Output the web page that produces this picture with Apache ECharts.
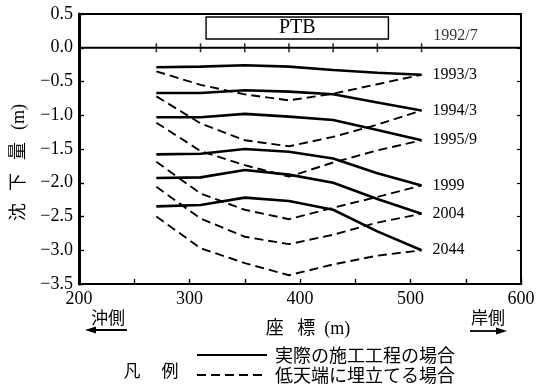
<!DOCTYPE html>
<html>
<head>
<meta charset="utf-8">
<script src="https://cdn.jsdelivr.net/npm/echarts@6/dist/echarts.min.js"></script>
<style>
  html, body { margin: 0; padding: 0; background: #fff; }
  #chart { width: 544px; height: 389px; }
</style>
</head>
<body>
<div id="chart"></div>
<script>
// Measurement stations along the section (m)
const stations = [270, 310, 350, 390, 430, 470, 510];

// Survey dates, top to bottom
const dates = ['1993/3', '1994/3', '1995/9', '1999', '2004', '2044'];
const baseDate = '1992/7';

// Settlement (m), actual construction schedule
const actual1993 = [-0.29, -0.28, -0.26, -0.28, -0.33, -0.37, -0.40];
const actual1994 = [-0.67, -0.67, -0.63, -0.65, -0.69, -0.81, -0.93];
const actual1995 = [-1.03, -1.03, -0.98, -1.02, -1.07, -1.22, -1.37];
const actual1999 = [-1.58, -1.57, -1.50, -1.54, -1.64, -1.86, -2.04];
const actual2004 = [-1.93, -1.92, -1.81, -1.88, -2.00, -2.24, -2.46];
const actual2044 = [-2.35, -2.33, -2.22, -2.27, -2.40, -2.72, -3.00];

// Settlement (m), reclaimed to a low crown level
const low1993 = [-0.35, -0.55, -0.69, -0.78, -0.68, -0.54, -0.40];
const low1994 = [-0.72, -1.12, -1.37, -1.46, -1.32, -1.14, -0.93];
const low1995 = [-1.11, -1.53, -1.74, -1.91, -1.70, -1.52, -1.37];
const low1999 = [-1.69, -2.16, -2.40, -2.54, -2.37, -2.21, -2.04];
const low2004 = [-2.06, -2.53, -2.80, -2.91, -2.77, -2.59, -2.46];
const low2044 = [-2.50, -2.97, -3.19, -3.37, -3.21, -3.08, -3.00];

// PTB extent: x range (m) and vertical band of the box
const ptbRange = [315, 480];
const ptbBand = [0.13, 0.455];

const actualSets = [actual1993, actual1994, actual1995, actual1999, actual2004, actual2044];
const lowSets = [low1993, low1994, low1995, low1999, low2004, low2044];

const NAME_ACTUAL = '実際の施工工程の場合';
const NAME_LOW = '低天端に埋立てる場合';
const SERIF = "'Liberation Serif', 'Noto Sans CJK JP', serif";
const CJK = "'Noto Sans CJK JP', 'Liberation Serif', sans-serif";

const pairs = vals => stations.map((x, i) => [x, vals[i]]);

const series = [];

// 1992/7 baseline with the PTB box and station ticks
series.push({
  type: 'line',
  name: baseDate,
  data: [[200, 0], [600, 0]],
  symbol: 'none',
  silent: true,
  lineStyle: { color: '#000', width: 2 },
  markArea: {
    silent: true,
    itemStyle: { color: '#fff', borderColor: '#000', borderWidth: 1.4 },
    label: {
      show: true, position: 'inside', formatter: 'PTB',
      color: '#000', fontSize: 20, fontFamily: SERIF
    },
    data: [[{ coord: [ptbRange[0], ptbBand[1]] }, { coord: [ptbRange[1], ptbBand[0]] }]]
  },
  z: 2
});
series.push({
  type: 'scatter',
  name: baseDate + ' ticks',
  symbol: 'rect',
  symbolSize: [1.6, 9],
  itemStyle: { color: '#000' },
  silent: true,
  data: stations.map((x, i) => ({
    value: [x, 0],
    label: i === stations.length - 1 ? {
      show: true, position: 'right', distance: 11, offset: [0, -12],
      formatter: baseDate, color: '#000', fontSize: 16, fontFamily: SERIF
    } : { show: false }
  })),
  z: 3
});

dates.forEach((d, k) => {
  series.push({
    type: 'line',
    name: NAME_ACTUAL,
    data: pairs(actualSets[k]),
    symbol: 'none',
    lineStyle: { color: '#000', width: 2.6 },
    itemStyle: { color: '#000' },
    endLabel: {
      show: true, formatter: d, distance: 11,
      color: '#000', fontSize: 16, fontFamily: SERIF
    },
    z: 4
  });
  series.push({
    type: 'line',
    name: NAME_LOW,
    data: pairs(lowSets[k]),
    symbol: 'none',
    lineStyle: { color: '#000', width: 1.9, type: [9, 5] },
    itemStyle: { color: '#000' },
    z: 3
  });
});

const yLabel = v => {
  if (Math.abs(v) < 1e-9) return '0.0';
  return v < 0 ? '\u2212' + (-v).toFixed(1) : v.toFixed(1);
};

// Rotated characters of the vertical axis title
const yTitleParts = [
  { t: '沈', y: 212 }, { t: '下', y: 182 }, { t: '量', y: 151 }, { t: '(m)', y: 117 }
];

const chart = echarts.init(document.getElementById('chart'), null, { renderer: 'canvas' });
chart.setOption({
  animation: false,
  backgroundColor: '#fff',
  grid: { left: 79, right: 23, top: 14, bottom: 105, containLabel: false, outerBoundsMode: 'none' },
  legend: {
    data: [NAME_ACTUAL, NAME_LOW],
    orient: 'vertical',
    left: 196, top: 346,
    padding: 0,
    itemWidth: 70, itemHeight: 14, itemGap: 2,
    selectedMode: false,
    itemStyle: { opacity: 0, borderWidth: 0 },
    textStyle: { color: '#000', fontSize: 18, lineHeight: 18, fontFamily: CJK, padding: [0, 0, 0, 3] }
  },
  xAxis: [{
    type: 'value', min: 200, max: 600, interval: 50,
    name: '座   標  (m)', nameLocation: 'middle', nameGap: 36,
    nameTextStyle: { color: '#000', fontSize: 18, fontFamily: SERIF, padding: [0, 0, 0, 16] },
    axisLine: { show: true, onZero: false, lineStyle: { color: '#000', width: 2 } },
    axisTick: { show: true, inside: true, length: 5, lineStyle: { color: '#000', width: 1.4 } },
    axisLabel: {
      color: '#000', fontSize: 18, fontFamily: SERIF, margin: 6,
      formatter: v => (v % 100 === 0 ? String(v) : '')
    },
    splitLine: { show: false }
  }, {
    type: 'value', min: 200, max: 600, position: 'top',
    axisLine: { show: true, onZero: false, lineStyle: { color: '#000', width: 2 } },
    axisTick: { show: false }, axisLabel: { show: false }, splitLine: { show: false }
  }],
  yAxis: [{
    type: 'value', min: -3.5, max: 0.5, interval: 0.5,
    axisLine: { show: true, onZero: false, lineStyle: { color: '#000', width: 3 } },
    axisTick: { show: true, inside: true, length: 5, lineStyle: { color: '#000', width: 1.4 } },
    axisLabel: { color: '#000', fontSize: 18, fontFamily: SERIF, margin: 6, formatter: yLabel },
    splitLine: { show: false }
  }, {
    type: 'value', min: -3.5, max: 0.5, interval: 0.5, position: 'right',
    axisLine: { show: true, onZero: false, lineStyle: { color: '#000', width: 2 } },
    axisTick: { show: true, inside: true, length: 4, lineStyle: { color: '#000', width: 1.2 } },
    axisLabel: { show: false }, splitLine: { show: false }
  }],
  graphic: [
    ...yTitleParts.map(p => ({
      type: 'text', x: 19, y: p.y, rotation: Math.PI / 2,
      style: { text: p.t, fill: '#000', font: '18px ' + SERIF, align: 'center', verticalAlign: 'middle' }
    })),
    { type: 'text', x: 108, y: 318,
      style: { text: '沖側', fill: '#000', font: '17px ' + CJK, align: 'center', verticalAlign: 'middle' } },
    { type: 'line', shape: { x1: 92, y1: 330, x2: 127, y2: 330 }, style: { stroke: '#000', lineWidth: 1.8 } },
    { type: 'polygon', shape: { points: [[85, 330], [96, 326.5], [96, 333.5]] }, style: { fill: '#000' } },
    { type: 'text', x: 488, y: 318,
      style: { text: '岸側', fill: '#000', font: '17px ' + CJK, align: 'center', verticalAlign: 'middle' } },
    { type: 'line', shape: { x1: 470, y1: 331, x2: 500, y2: 331 }, style: { stroke: '#000', lineWidth: 1.8 } },
    { type: 'polygon', shape: { points: [[507, 331], [496, 327.5], [496, 334.5]] }, style: { fill: '#000' } },
    { type: 'text', x: 132, y: 371,
      style: { text: '凡', fill: '#000', font: '17px ' + CJK, align: 'center', verticalAlign: 'middle' } },
    { type: 'text', x: 170, y: 371,
      style: { text: '例', fill: '#000', font: '17px ' + CJK, align: 'center', verticalAlign: 'middle' } }
  ],
  series: series
});
</script>
</body>
</html>
